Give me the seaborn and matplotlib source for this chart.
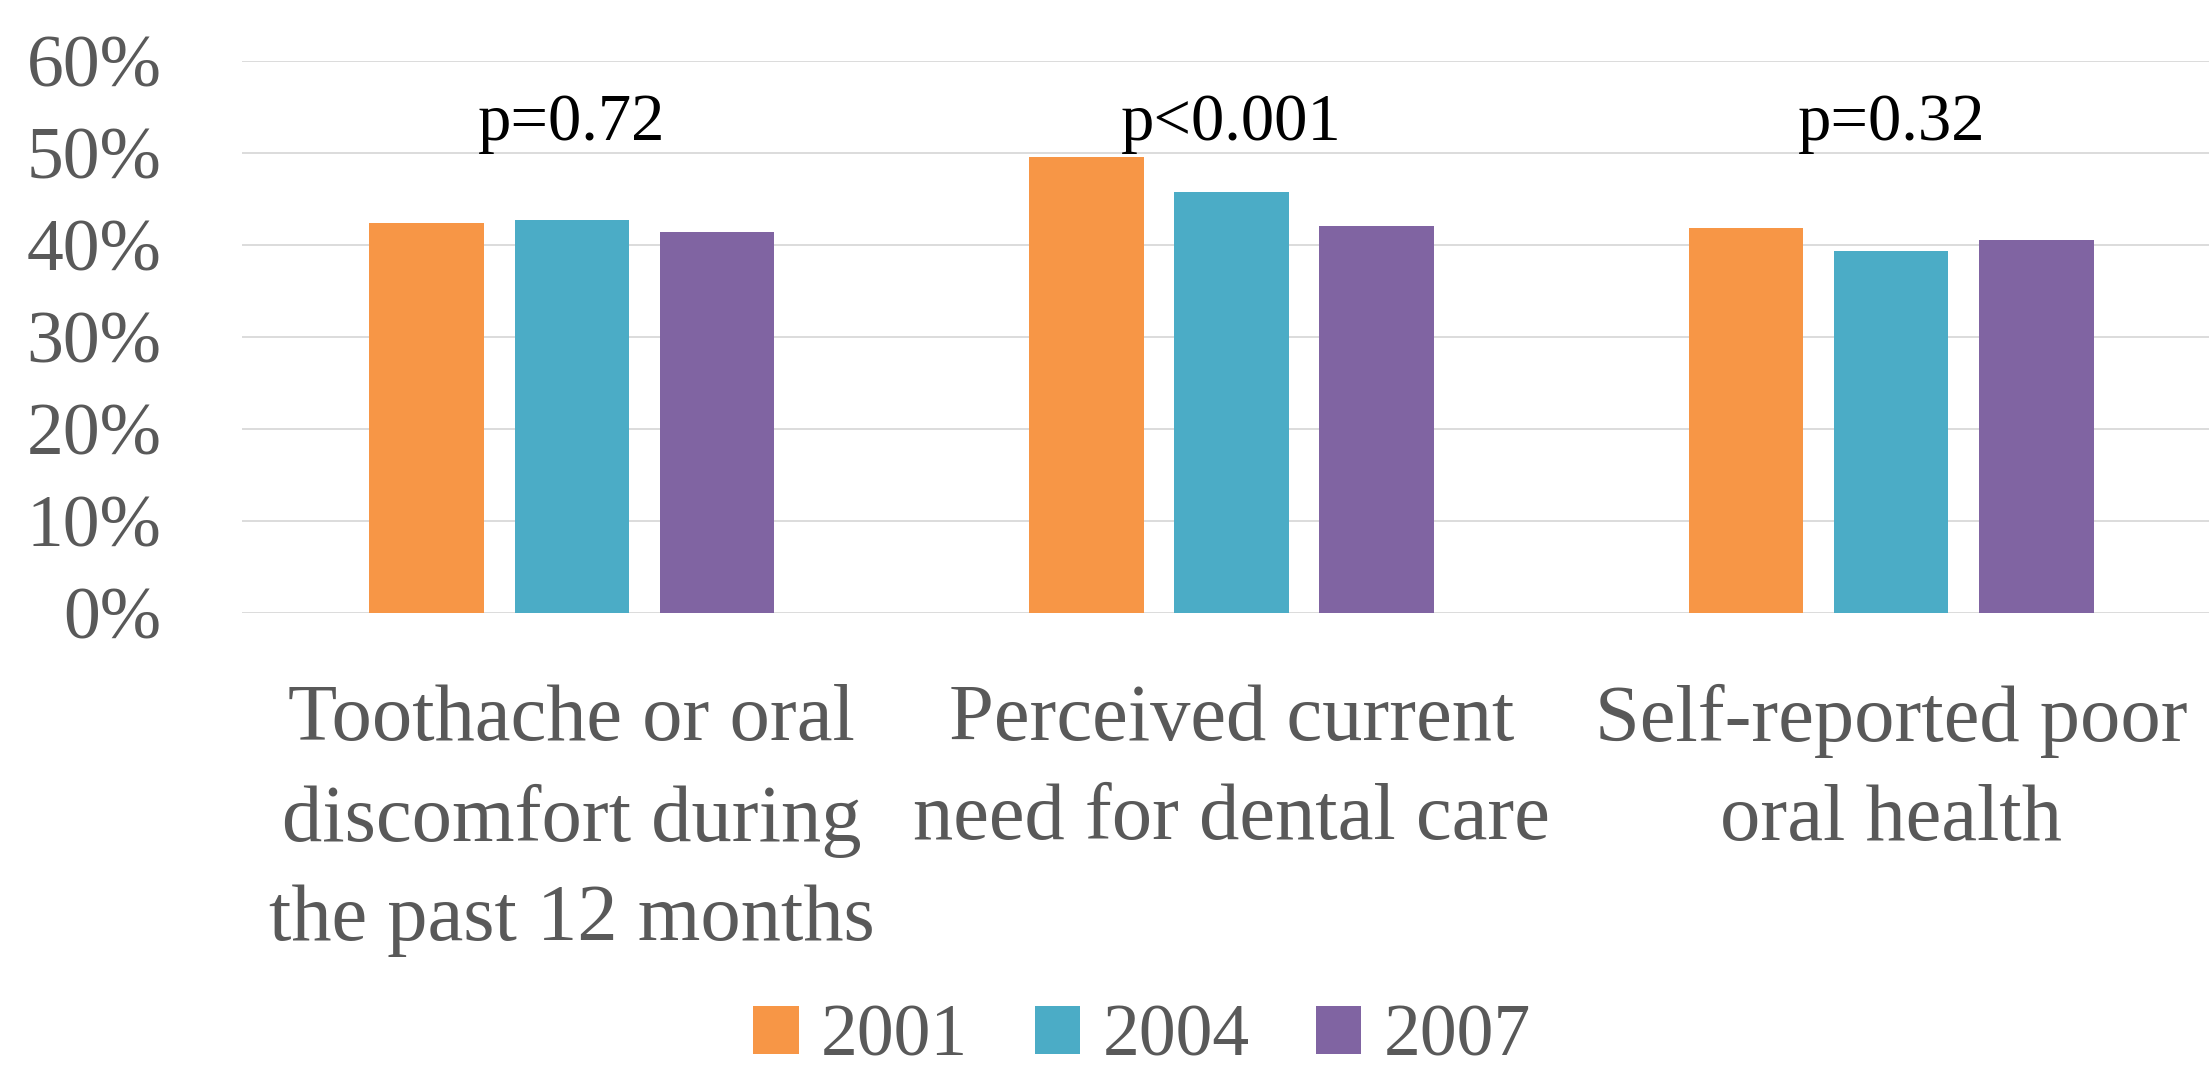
import numpy as np
import pandas as pd
import matplotlib
matplotlib.use("Agg")
import matplotlib.pyplot as plt
import seaborn as sns

# --- data ---
categories = ["Toothache or oral\ndiscomfort during\nthe past 12 months",
              "Perceived current\nneed for dental care",
              "Self-reported poor\noral health"]
years = ["2001", "2004", "2007"]
vals_2001 = [42.4, 49.6, 41.9]
vals_2004 = [42.7, 45.8, 39.3]
vals_2007 = [41.4, 42.1, 40.5]
p_labels = ["p=0.72", "p<0.001", "p=0.32"]
p_label_y = 51.4
year_colors = ["#F79646", "#4BACC6", "#8064A2"]

df = pd.DataFrame({
    "Category": categories * 3,
    "Year": [y for y in years for _ in categories],
    "Value": vals_2001 + vals_2004 + vals_2007,
})

sns.set_theme(style="white")
plt.rcParams['font.family'] = ['Liberation Serif', 'DejaVu Serif']

W, H = 2209, 1068
fig = plt.figure(figsize=(W / 100, H / 100), dpi=100)
ax = fig.add_axes([242 / W, 455 / H, (2221 - 242) / W, 552 / H])

sns.barplot(data=df, x="Category", y="Value", hue="Year", palette=year_colors,
            saturation=1, width=0.66, gap=0.21, linewidth=0, ax=ax)

gray = "#595959"
ax.set_ylim(0, 60)
ax.set_xlim(-0.5, 2.5)
ax.set_yticks(np.arange(0, 61, 10))
ax.set_yticklabels([f"{v}%" for v in range(0, 61, 10)])
ax.yaxis.grid(True, color="#D9D9D9", linewidth=1.3)
ax.set_axisbelow(True)
for s in ax.spines.values():
    s.set_visible(False)
ax.set_xlabel("")
ax.set_ylabel("")
ax.tick_params(axis="y", length=0, pad=58, labelsize=53, colors=gray)
ax.tick_params(axis="x", length=0, pad=51, labelsize=58, colors=gray)
for lbl in ax.get_xticklabels():
    lbl.set_linespacing(1.47)

# p-value annotations
for i, txt in enumerate(p_labels):
    ax.text(i, p_label_y, txt, ha="center", va="baseline", fontsize=48, color="black")

handles, labels = ax.get_legend_handles_labels()
ax.legend_.remove()
fig.legend(handles, labels, loc="center", bbox_to_anchor=(0.517, 0.028), ncol=3,
           frameon=False, fontsize=53, labelcolor=gray, handlelength=0.62,
           handleheight=0.62, handletextpad=0.3, columnspacing=0.9)

fig.savefig("out.png", dpi=100)
